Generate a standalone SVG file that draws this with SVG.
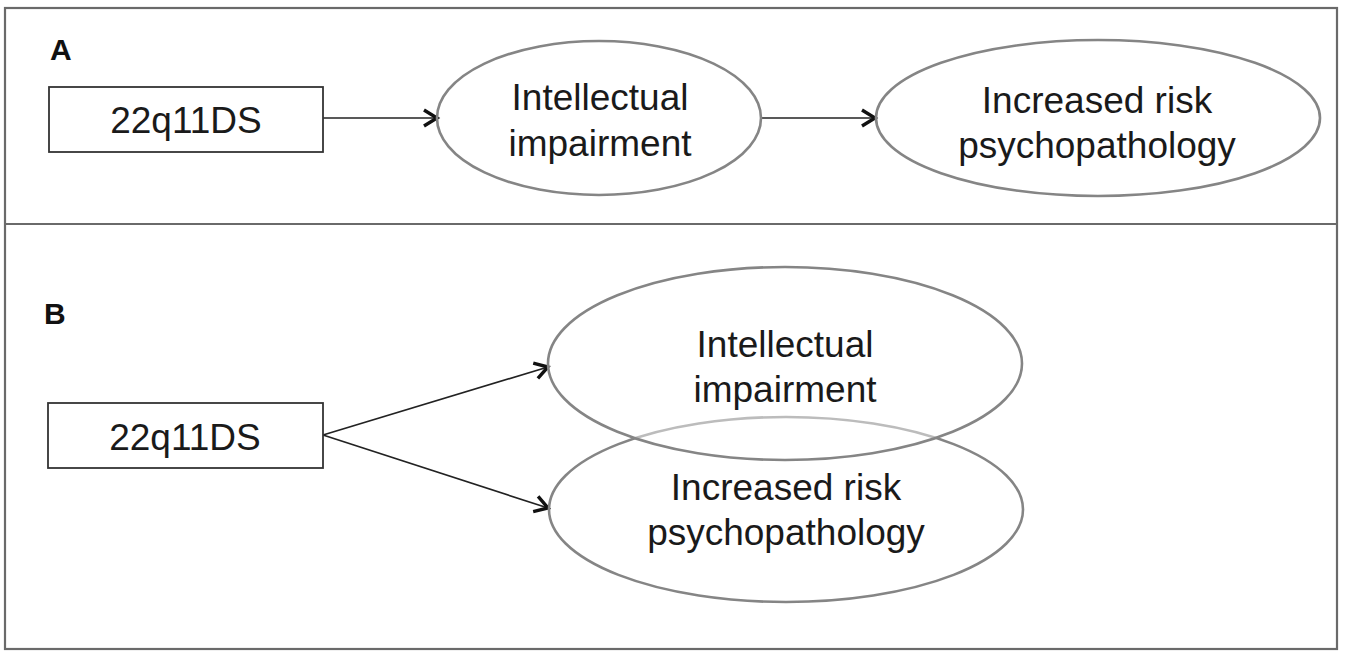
<svg xmlns="http://www.w3.org/2000/svg" width="1345" height="652" viewBox="0 0 1345 652">
<defs>
<style>
.frame{fill:none;stroke:#6a6a6a;stroke-width:2.2}
.box{fill:#fff;stroke:#333;stroke-width:1.8}
.ell{fill:none;stroke:#858585;stroke-width:2.6}
.lbl{font-family:"Liberation Sans",Arial,sans-serif;font-size:37px;fill:#1a1a1a;text-anchor:middle}
.panel{font-family:"Liberation Sans",Arial,sans-serif;font-size:30px;font-weight:bold;fill:#111}
.conn{fill:none;stroke:#222;stroke-width:1.7}
</style>
<marker id="arr" markerUnits="userSpaceOnUse" markerWidth="22" markerHeight="22" refX="17" refY="11" orient="auto" viewBox="0 0 22 22">
<path d="M4,3 L17,11 L4,19" fill="none" stroke="#111" stroke-width="3.4" stroke-linejoin="miter"/>
</marker>
</defs>
<rect width="1345" height="652" fill="#fff"/>
<g id="frame">
<rect class="frame" x="5" y="8" width="1332" height="641"/>
<line class="frame" x1="5" y1="224" x2="1337" y2="224"/>
</g>
<text class="panel" x="50" y="60">A</text>
<text class="panel" x="44" y="324">B</text>
<g id="connectors">
<line class="conn" x1="323" y1="118" x2="437" y2="118" marker-end="url(#arr)"/>
<line class="conn" x1="761" y1="118" x2="875" y2="118" marker-end="url(#arr)"/>
<line class="conn" x1="323" y1="435" x2="548" y2="367" marker-end="url(#arr)"/>
<line class="conn" x1="323" y1="435" x2="548" y2="508" marker-end="url(#arr)"/>
</g>
<g id="a-22q11ds">
<rect class="box" x="49" y="87" width="274" height="65"/>
<text class="lbl" x="186" y="133">22q11DS</text>
</g>
<g id="a-intellectual">
<ellipse class="ell" cx="599" cy="118" rx="162" ry="77"/>
<text class="lbl" x="600" y="110">Intellectual</text>
<text class="lbl" x="600" y="156">impairment</text>
</g>
<g id="a-psycho">
<ellipse class="ell" cx="1098" cy="118" rx="222" ry="78"/>
<text class="lbl" x="1097" y="113">Increased risk</text>
<text class="lbl" x="1097" y="158">psychopathology</text>
</g>
<g id="b-22q11ds">
<rect class="box" x="48" y="403" width="275" height="65"/>
<text class="lbl" x="185" y="450">22q11DS</text>
</g>
<g id="b-psycho">
<ellipse class="ell" cx="786" cy="509.5" rx="237" ry="92.5"/>
</g>
<g id="b-intellectual">
<ellipse cx="785" cy="363.5" rx="237" ry="96.5" fill="#fff" fill-opacity="0.45" stroke="#858585" stroke-width="2.6"/>
<text class="lbl" x="785" y="357">Intellectual</text>
<text class="lbl" x="785" y="402">impairment</text>
</g>
<g id="b-psycho-text">
<text class="lbl" x="786" y="500">Increased risk</text>
<text class="lbl" x="786" y="545">psychopathology</text>
</g>
</svg>
